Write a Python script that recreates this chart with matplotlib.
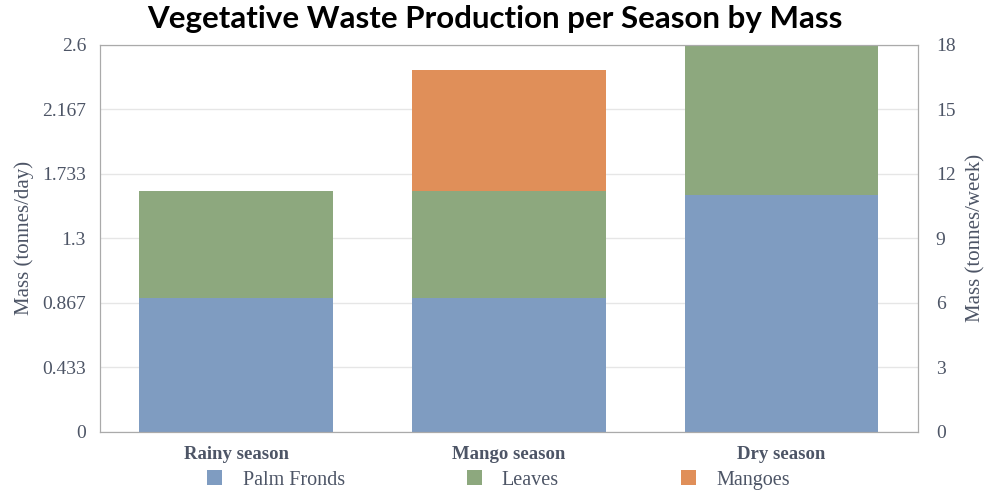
import numpy as np
import matplotlib.pyplot as plt

seasons = ['Rainy season', 'Mango season', 'Dry season']
palm_fronds = [0.90, 0.90, 1.59]   # tonnes/day
leaves = [0.715, 0.715, 1.01]
mangoes = [0.0, 0.815, 0.0]

left_ticks = [0, 0.433, 0.867, 1.3, 1.733, 2.167, 2.6]
right_ticks = [0, 3, 6, 9, 12, 15, 18]

BLUE = '#7f9cc1'
GREEN = '#8da87e'
ORANGE = '#e08f59'
TXT = '#4d5566'
SERIF = ['Liberation Serif', 'DejaVu Serif']

fig = plt.figure(figsize=(9.89, 4.93), dpi=100)
ax = fig.add_axes([0.101, 0.124, 0.827, 0.785])

x = np.arange(len(seasons))
w = 0.71
pf = np.array(palm_fronds)
lv = np.array(leaves)
mg = np.array(mangoes)
ax.bar(x, pf, w, color=BLUE, label='Palm Fronds', zorder=2)
ax.bar(x, lv, w, bottom=pf, color=GREEN, label='Leaves', zorder=2)
ax.bar(x, mg, w, bottom=pf + lv, color=ORANGE, label='Mangoes', zorder=2)

ax.set_xlim(-0.5, 2.5)
ax.set_ylim(0, 2.6)
ax.set_yticks(left_ticks)
ax.set_yticklabels([f'{t:g}' for t in left_ticks], family=SERIF, fontsize=14, color=TXT)
ax.set_xticks(x)
ax.set_xticklabels(seasons, family=SERIF, fontsize=13.5, fontweight='bold', color=TXT)
ax.tick_params(axis='x', length=0, pad=10)
ax.tick_params(axis='y', length=0, pad=10)
ax.grid(axis='y', color='#e6e6e6', linewidth=1, zorder=0)
ax.set_ylabel('Mass (tonnes/day)', family=SERIF, fontsize=15, color=TXT, labelpad=6)
for s in ax.spines.values():
    s.set_color('#aaaaaa')

ax2 = ax.twinx()
ax2.set_ylim(0, 18)
ax2.set_yticks(right_ticks)
ax2.set_yticklabels([str(t) for t in right_ticks], family=SERIF, fontsize=14, color=TXT)
ax2.tick_params(axis='y', length=0, pad=13)
ax2.set_ylabel('Mass (tonnes/week)', family=SERIF, fontsize=15, color=TXT, labelpad=8)
for s in ax2.spines.values():
    s.set_color('#aaaaaa')

handles, labels = ax.get_legend_handles_labels()
fig.legend(handles, labels, loc='center', bbox_to_anchor=(0.504, 0.026), ncol=3,
           frameon=False, handlelength=0.75, handleheight=0.75, handletextpad=1.0,
           columnspacing=6.05, prop={'family': SERIF, 'size': 14.5}, labelcolor=TXT)

fig.suptitle('Vegetative Waste Production per Season by Mass', y=0.99,
             fontsize=22.5, fontweight='bold', family=['Lato', 'DejaVu Sans'])

fig.savefig('out.png', dpi=100)
